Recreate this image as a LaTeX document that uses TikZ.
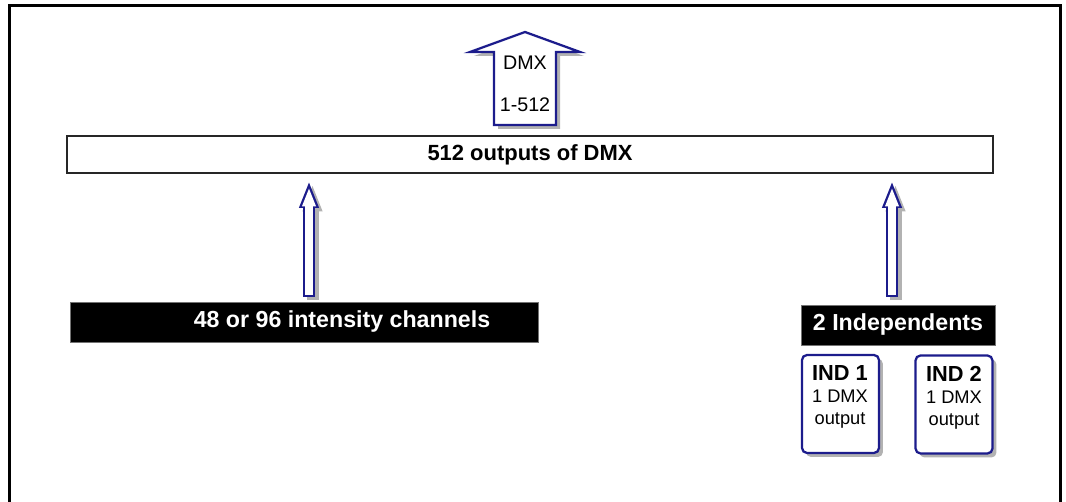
\documentclass[tikz,border=0pt]{standalone}
\usepackage{fontspec}
\setmainfont{Liberation Sans}
\usetikzlibrary{arrows.meta,shadows}
\definecolor{dmxblue}{RGB}{28,28,140}
\tikzset{
  softshadow/.style={drop shadow={shadow xshift=0.08cm,shadow yshift=-0.08cm,opacity=0.5,fill=black!60}},
  outbox/.style={draw=black!85,line width=0.04cm,fill=white,minimum width=18.52cm,minimum height=0.74cm,inner sep=0pt,font=\fontsize{12.5}{15}\selectfont\bfseries},
  blackbox/.style={draw=black!55,fill=black,text=white,inner sep=0pt,minimum height=0.8cm,font=\fontsize{13.2}{15}\selectfont\bfseries},
  indbox/.style={draw=dmxblue,line width=0.045cm,fill=white,rounded corners=0.1cm,minimum width=1.54cm,minimum height=1.96cm,softshadow},
  indtext/.style={align=center,inner sep=0pt,font=\fontsize{10.4}{12.5}\selectfont},
  dmxtext/.style={inner sep=0pt,font=\fontsize{11.2}{13}\selectfont},
  arrowout/.style={draw=dmxblue,line width=0.24cm,-{Triangle[width=0.36cm,length=0.54cm]}},
  arrowin/.style={draw=white,line width=0.16cm,-{Triangle[width=0.25cm,length=0.38cm]}},
  arrowshade/.style={draw=black!30,line width=0.24cm,-{Triangle[width=0.36cm,length=0.54cm]},transform canvas={shift={(0.07cm,-0.07cm)}}}
}
\begin{document}
\begin{tikzpicture}[x=0.02cm,y=-0.02cm]
  \useasboundingbox (0,0) rectangle (1066,502);
  \draw[line width=0.07cm] (9.5,502) -- (9.5,5.5) -- (1060.5,5.5) -- (1060.5,502);
  % big DMX arrow on top
  \draw[draw=dmxblue,line width=0.045cm,fill=white,softshadow]
    (494,125) -- (494,52) -- (470,52) -- (525,32) -- (580,52) -- (556,52) -- (556,125) -- cycle;
  \node[dmxtext] (dmx) at (525,63) {DMX};
  \node[dmxtext] (range) at (525,105) {1-512};
  % boxes
  \node[outbox] (outputs) at (530,154.5) {512 outputs of DMX};
  \node[blackbox,minimum width=9.36cm] (channels) at (304,322) {\hspace*{1.52cm}48 or 96 intensity channels};
  \node[blackbox,minimum width=3.88cm] (indeps) at (898,325) {2 Independents};
  \node[indbox] (ind1) at (840.5,404) {};
  \node[indbox] (ind2) at (954,404.5) {};
  \node[indtext] (ind1txt) at (840,397) {{\fontsize{12.4}{14}\selectfont\bfseries IND 1}\\1 DMX\\output};
  \node[indtext] (ind2txt) at (954,398) {{\fontsize{12.4}{14}\selectfont\bfseries IND 2}\\1 DMX\\output};
  % hollow arrows up
  \draw[arrowshade,shorten <=0.1cm,shorten >=0.14cm] ([xshift=0.1cm]channels.north) -- ([xshift=0.1cm]channels.north |- outputs.south);
  \draw[arrowout,shorten <=0.1cm,shorten >=0.14cm] ([xshift=0.1cm]channels.north) -- ([xshift=0.1cm]channels.north |- outputs.south);
  \draw[arrowin,shorten <=0.14cm,shorten >=0.27cm] ([xshift=0.1cm]channels.north) -- ([xshift=0.1cm]channels.north |- outputs.south);
  \draw[arrowshade,shorten <=0.16cm,shorten >=0.14cm] ([xshift=-0.12cm]indeps.north) -- ([xshift=-0.12cm]indeps.north |- outputs.south);
  \draw[arrowout,shorten <=0.16cm,shorten >=0.14cm] ([xshift=-0.12cm]indeps.north) -- ([xshift=-0.12cm]indeps.north |- outputs.south);
  \draw[arrowin,shorten <=0.2cm,shorten >=0.27cm] ([xshift=-0.12cm]indeps.north) -- ([xshift=-0.12cm]indeps.north |- outputs.south);
\end{tikzpicture}
\end{document}
